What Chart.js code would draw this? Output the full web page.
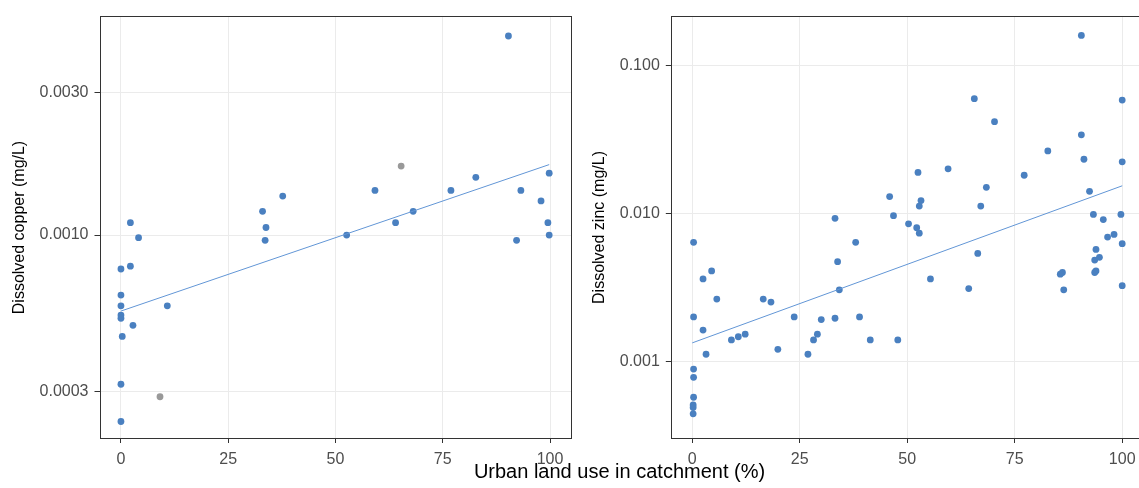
<!DOCTYPE html>
<html>
<head>
<meta charset="utf-8">
<script src="https://cdn.jsdelivr.net/npm/chart.js@4.4.1/dist/chart.umd.min.js"></script>
<style>
    html, body { margin: 0; padding: 0; background: #fff; overflow: hidden; width: 1139px; height: 488px; }
    #cobre { position: absolute; left: 0; top: 0; }
    #zinc { position: absolute; left: 580px; top: 0; }
    #tituloX {
        position: absolute; left: 0; width: 1239px; top: 461px;
        text-align: center; font: 20px "Liberation Sans", Arial, sans-serif;
        line-height: 20px; color: #000; white-space: nowrap;
    }
</style>
</head>
<body>
<canvas id="cobre" width="580" height="488"></canvas>
<canvas id="zinc" width="580" height="488"></canvas>
<div id="tituloX">Urban land use in catchment (%)</div>

<script>
// ejes
const urbanTicks = [0, 25, 50, 75, 100];
const copperTicks = [0.0003, 0.001, 0.003];
const zincTicks = [0.001, 0.01, 0.1];

// cobre disuelto (mg/L) vs uso urbano (%)
const copperUrban = [90.3, 82.7, 99.8, 59.2, 76.9, 93.2, 97.9, 37.7, 33.0, 68.1,
    33.8, 64.0, 99.5, 2.2, 4.1, 33.6, 52.6, 92.2, 99.8, 0,
    2.2, 0, 0, 10.8, 0, 0, 2.8, 0.3, 0, 0];
const copperConc = [0.00463, 0.00156, 0.00161, 0.00141, 0.00141, 0.00141, 0.00130, 0.00135, 0.00120, 0.00120,
    0.00106, 0.00110, 0.00110, 0.00110, 0.00098, 0.00096, 0.00100, 0.00096, 0.00100, 0.00077,
    0.000787, 0.00063, 0.00058, 0.00058, 0.00054, 0.000527, 0.000499, 0.000458, 0.000317, 0.000238];
// puntos grises
const copperGreyUrban = [65.3, 9.1];
const copperGreyConc = [0.00170, 0.000288];
// recta de ajuste
const copperFitUrban = [0, 99.8];
const copperFitConc = [0.000557, 0.00172];

// zinc disuelto (mg/L)
const zincUrban = [90.5, 65.6, 100, 70.3, 90.5, 82.7, 91.1, 100, 59.5, 52.5,
    77.2, 68.4, 92.4, 45.9, 53.2, 52.8, 67.1, 46.8, 33.2, 93.3,
    99.7, 95.6, 50.3, 52.2, 52.8, 98.1, 96.6, 0.3, 38.0, 100,
    66.4, 93.9, 94.7, 93.6, 33.8, 4.5, 86.1, 85.6, 93.9, 93.6,
    2.5, 55.4, 64.3, 100, 34.2, 86.4, 5.7, 16.5, 18.3, 0.3,
    23.7, 33.2, 38.9, 30.0, 2.5, 12.3, 29.1, 10.7, 9.1, 28.2,
    41.4, 47.8, 19.9, 3.2, 26.9, 0.3, 0.3, 0.3, 0.2, 0.2, 0.2];
const zincConc = [0.159, 0.0595, 0.0582, 0.0416, 0.0339, 0.0264, 0.0232, 0.0223, 0.0200, 0.0189,
    0.0181, 0.0150, 0.0141, 0.0130, 0.0122, 0.0112, 0.0112, 0.00966, 0.00926, 0.00985,
    0.00985, 0.00908, 0.0085, 0.0080, 0.00736, 0.00721, 0.00692, 0.00638, 0.00638, 0.00625,
    0.00537, 0.00571, 0.00505, 0.00484, 0.00472, 0.00409, 0.00399, 0.00389, 0.00409, 0.00399,
    0.00361, 0.00361, 0.00311, 0.00325, 0.00305, 0.00305, 0.00264, 0.00264, 0.00252, 0.00200,
    0.00200, 0.00196, 0.00200, 0.00192, 0.00163, 0.00153, 0.00153, 0.00147, 0.00140, 0.00140,
    0.00140, 0.00140, 0.00121, 0.00112, 0.00112, 0.00089, 0.000782, 0.000574, 0.000509, 0.000489, 0.000444];
const zincFitUrban = [0, 100];
const zincFitConc = [0.001337, 0.01536];

const FUENTE = "'Liberation Sans', Arial, sans-serif";
const AZUL = "#4A80C0";
const GRIS = "#999999";
const LINEA = "#6296D6";

function puntos(xs, ys) {
    return xs.map((x, i) => ({ x: x, y: ys[i] }));
}

// borde del panel (theme_bw)
const bordePanel = {
    id: 'bordePanel',
    afterDraw(chart) {
        const a = chart.chartArea;
        const ctx = chart.ctx;
        ctx.save();
        ctx.strokeStyle = '#333333';
        ctx.lineWidth = 1;
        ctx.strokeRect(Math.round(a.left) + 0.5, Math.round(a.top) + 0.5,
            Math.round(a.right - a.left) - 1, Math.round(a.bottom - a.top) - 1);
        ctx.restore();
    }
};

function crearGrafico(id, cfg) {
    const ctx = document.getElementById(id).getContext('2d');
    return new Chart(ctx, {
        type: 'scatter',
        plugins: [bordePanel],
        data: {
            datasets: [{
                data: puntos(cfg.fitX, cfg.fitY),
                showLine: true,
                pointRadius: 0,
                borderColor: LINEA,
                borderWidth: 1
            }, {
                data: puntos(cfg.x, cfg.y),
                pointRadius: 3.4,
                pointBorderWidth: 0,
                backgroundColor: AZUL
            }, {
                data: puntos(cfg.greyX || [], cfg.greyY || []),
                pointRadius: 3.4,
                pointBorderWidth: 0,
                backgroundColor: GRIS
            }]
        },
        options: {
            responsive: false,
            animation: false,
            events: [],
            layout: { padding: { top: 16, right: cfg.padRight, bottom: 0, left: 0 } },
            plugins: { legend: { display: false }, tooltip: { enabled: false } },
            scales: {
                x: {
                    type: 'linear',
                    min: -5,
                    max: 105,
                    afterBuildTicks: s => { s.ticks = urbanTicks.map(v => ({ value: v })); },
                    afterFit: s => { s.height = 49; },
                    grid: { color: '#EBEBEB', tickColor: '#333333', tickLength: 4 },
                    border: { display: false },
                    ticks: {
                        color: '#4D4D4D', padding: 7, maxRotation: 0,
                        font: { family: FUENTE, size: 16 }
                    }
                },
                y: {
                    type: 'logarithmic',
                    min: cfg.yMin,
                    max: cfg.yMax,
                    afterBuildTicks: s => { s.ticks = cfg.yTicks.map(v => ({ value: v })); },
                    afterFit: s => { s.width = cfg.yWidth; },
                    grid: { color: '#EBEBEB', tickColor: '#333333', tickLength: 5 },
                    border: { display: false },
                    ticks: {
                        color: '#4D4D4D', padding: 6,
                        font: { family: FUENTE, size: 16 },
                        callback: v => Number(v).toFixed(cfg.decimales)
                    },
                    title: {
                        display: true,
                        text: cfg.titulo,
                        color: '#000',
                        padding: { top: 10, bottom: 0 },
                        font: { family: FUENTE, size: 16 }
                    }
                }
            }
        }
    });
}

crearGrafico('cobre', {
    x: copperUrban, y: copperConc,
    greyX: copperGreyUrban, greyY: copperGreyConc,
    fitX: copperFitUrban, fitY: copperFitConc,
    yMin: 0.000208, yMax: 0.0054,
    yTicks: copperTicks, decimales: 4,
    yWidth: 99.5, padRight: 8.5,
    titulo: 'Dissolved copper (mg/L)'
});

crearGrafico('zinc', {
    x: zincUrban, y: zincConc,
    fitX: zincFitUrban, fitY: zincFitConc,
    yMin: 0.00033, yMax: 0.2151,
    yTicks: zincTicks, decimales: 3,
    yWidth: 90.8, padRight: 16.3,
    titulo: 'Dissolved zinc (mg/L)'
});
</script>
</body>
</html>
